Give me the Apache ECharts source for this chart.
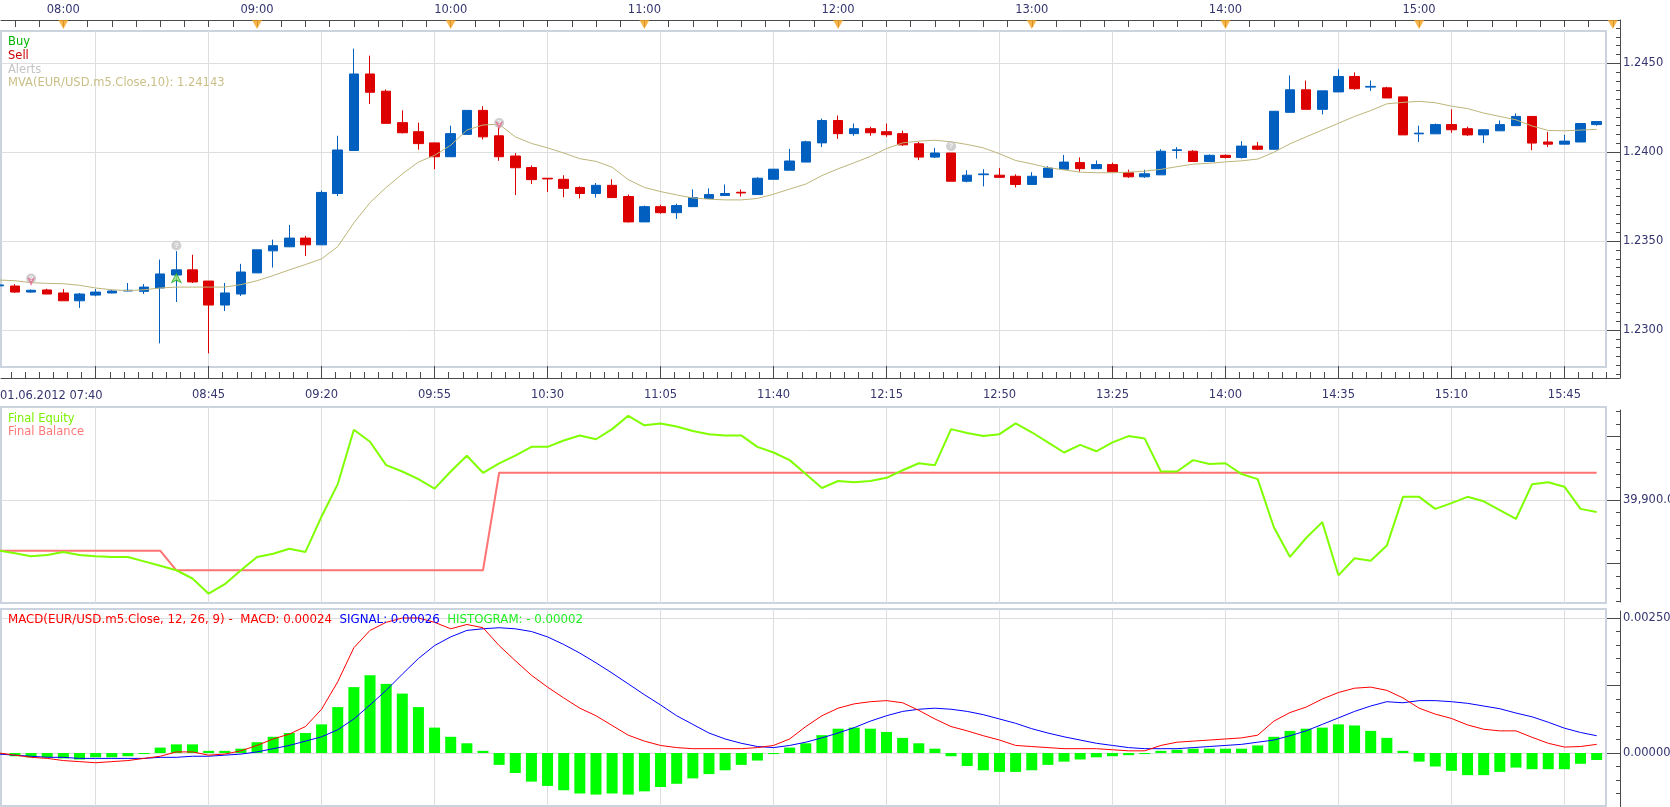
<!DOCTYPE html>
<html><head><meta charset="utf-8">
<script src="https://cdn.jsdelivr.net/npm/echarts@6/dist/echarts.min.js"></script>
<style>html,body{margin:0;padding:0;background:#fff;overflow:hidden}#c{width:1670px;height:807px}</style>
</head><body><div id="c"></div><script>
// ---------------- DATA ----------------
const dateLabel = '01.06.2012';
const times = [
'07:40','07:45','07:50','07:55',
'08:00','08:05','08:10','08:15','08:20','08:25','08:30','08:35','08:40','08:45','08:50','08:55',
'09:00','09:05','09:10','09:15','09:20','09:25','09:30','09:35','09:40','09:45','09:50','09:55',
'10:00','10:05','10:10','10:15','10:20','10:25','10:30','10:35','10:40','10:45','10:50','10:55',
'11:00','11:05','11:10','11:15','11:20','11:25','11:30','11:35','11:40','11:45','11:50','11:55',
'12:00','12:05','12:10','12:15','12:20','12:25','12:30','12:35','12:40','12:45','12:50','12:55',
'13:00','13:05','13:10','13:15','13:20','13:25','13:30','13:35','13:40','13:45','13:50','13:55',
'14:00','14:05','14:10','14:15','14:20','14:25','14:30','14:35','14:40','14:45','14:50','14:55',
'15:00','15:05','15:10','15:15','15:20','15:25','15:30','15:35','15:40','15:45','15:50','15:55'];
const open = [
1.23248,1.23247,1.23213,1.23225,1.23208,1.23164,1.23196,1.23208,1.23219,1.23217,
1.23236,1.23309,1.23338,1.23275,1.23140,1.23202,1.23321,1.23445,1.23468,1.23517,
1.23479,1.23768,1.24010,1.24441,1.24344,1.24167,1.24116,1.24053,1.23975,1.24101,
1.24236,1.24093,1.23979,1.23914,1.23854,1.23848,1.23802,1.23768,1.23814,1.23751,
1.23608,1.23694,1.23660,1.23694,1.23740,1.23757,1.23775,1.23762,1.23848,1.23899,
1.23945,1.24053,1.24179,1.24105,1.24133,1.24116,1.24105,1.24048,1.23973,1.23996,
1.23837,1.23874,1.23871,1.23865,1.23819,1.23859,1.23905,1.23942,1.23908,1.23931,
1.23885,1.23862,1.23873,1.24010,1.24006,1.23948,1.23983,1.23971,1.24035,1.24017,
1.24225,1.24352,1.24242,1.24340,1.24427,1.24367,1.24363,1.24312,1.24104,1.24104,
1.24156,1.24133,1.24098,1.24121,1.24150,1.24202,1.24058,1.24046,1.24058,1.24156];
const close = [
1.23253,1.23213,1.23223,1.23202,1.23164,1.23202,1.23213,1.23219,1.23223,1.23241,
1.23315,1.23338,1.23270,1.23140,1.23208,1.23326,1.23451,1.23474,1.23517,1.23479,
1.23774,1.24013,1.24441,1.24338,1.24163,1.24110,1.24049,1.23975,1.24105,1.24236,
1.24087,1.23975,1.23913,1.23846,1.23850,1.23797,1.23768,1.23814,1.23745,1.23608,
1.23694,1.23660,1.23700,1.23745,1.23762,1.23768,1.23771,1.23854,1.23905,1.23951,
1.24059,1.24179,1.24105,1.24133,1.24110,1.24099,1.24042,1.23973,1.23996,1.23837,
1.23871,1.23878,1.23859,1.23819,1.23865,1.23911,1.23945,1.23908,1.23931,1.23890,
1.23862,1.23879,1.24006,1.24014,1.23948,1.23983,1.23971,1.24035,1.24017,1.24231,
1.24352,1.24242,1.24346,1.24427,1.24358,1.24371,1.24306,1.24098,1.24108,1.24156,
1.24127,1.24098,1.24127,1.24156,1.24202,1.24052,1.24046,1.24063,1.24162,1.24173];
const low = [
1.23245,1.23208,1.23210,1.23202,1.23164,1.23124,1.23189,1.23206,1.23217,1.23202,
1.22924,1.23157,1.23264,1.22868,1.23106,1.23191,1.23321,1.23351,1.23466,1.23416,
1.23479,1.23753,1.24010,1.24272,1.24163,1.24106,1.24015,1.23905,1.23975,1.24101,
1.24072,1.23952,1.23759,1.23821,1.23776,1.23747,1.23740,1.23745,1.23745,1.23605,
1.23608,1.23654,1.23625,1.23694,1.23740,1.23757,1.23751,1.23762,1.23848,1.23899,
1.23945,1.24030,1.24076,1.24093,1.24093,1.24087,1.24036,1.23956,1.23968,1.23837,
1.23831,1.23808,1.23859,1.23802,1.23819,1.23859,1.23905,1.23890,1.23908,1.23890,
1.23856,1.23856,1.23873,1.23965,1.23948,1.23948,1.23965,1.23965,1.24012,1.24017,
1.24225,1.24242,1.24213,1.24340,1.24352,1.24346,1.24306,1.24098,1.24058,1.24104,
1.24110,1.24092,1.24052,1.24121,1.24150,1.24012,1.24029,1.24046,1.24058,1.24150];
const high = [
1.23256,1.23258,1.23228,1.23232,1.23230,1.23208,1.23230,1.23226,1.23264,1.23258,
1.23396,1.23443,1.23423,1.23275,1.23264,1.23372,1.23451,1.23508,1.23591,1.23530,
1.23785,1.24093,1.24584,1.24544,1.24354,1.24236,1.24167,1.24053,1.24150,1.24236,
1.24259,1.24141,1.23996,1.23926,1.23854,1.23871,1.23808,1.23827,1.23848,1.23762,
1.23700,1.23705,1.23711,1.23791,1.23797,1.23819,1.23791,1.23859,1.23905,1.24019,
1.24065,1.24190,1.24207,1.24162,1.24144,1.24162,1.24122,1.24059,1.24025,1.23996,
1.23899,1.23905,1.23911,1.23876,1.23888,1.23922,1.23985,1.23971,1.23954,1.23942,
1.23902,1.23902,1.24017,1.24029,1.24012,1.23988,1.23988,1.24063,1.24058,1.24231,
1.24433,1.24404,1.24346,1.24467,1.24450,1.24404,1.24369,1.24312,1.24150,1.24162,
1.24242,1.24144,1.24127,1.24179,1.24219,1.24202,1.24115,1.24098,1.24162,1.24173];
const mva = [
1.23281,1.23277,1.23266,1.23262,1.23260,1.23251,1.23236,1.23226,1.23221,1.23226,
1.23236,1.23241,1.23241,1.23241,1.23241,1.23255,1.23277,1.23306,1.23338,1.23368,
1.23400,1.23469,1.23603,1.23717,1.23802,1.23878,1.23945,1.23983,1.24040,1.24125,
1.24154,1.24158,1.24087,1.24050,1.24025,1.23996,1.23964,1.23949,1.23916,1.23846,
1.23802,1.23779,1.23760,1.23743,1.23736,1.23732,1.23732,1.23740,1.23764,1.23793,
1.23821,1.23869,1.23907,1.23941,1.23977,1.24021,1.24053,1.24063,1.24068,1.24059,
1.24044,1.24025,1.23992,1.23954,1.23935,1.23914,1.23901,1.23888,1.23885,1.23885,
1.23888,1.23894,1.23904,1.23919,1.23933,1.23938,1.23946,1.23952,1.23962,1.24000,
1.24048,1.24087,1.24125,1.24163,1.24202,1.24235,1.24273,1.24281,1.24287,1.24279,
1.24260,1.24246,1.24221,1.24202,1.24183,1.24148,1.24123,1.24121,1.24125,1.24129];
const alertTimes = ['07:50','08:35','10:15','12:35'];
const alertPrices = [1.23289,1.23475,1.24165,1.24034];
const sellTimes = ['07:50','10:15'];
const sellPrices = [1.23247,1.24126];
const buyTimes = ['08:35'];
const buyPrices = [1.23318];
const equity = [
39820,39816,39811,39813,39818,39813,39811,39810,39810,39803,
39796,39789,39776,39752,39767,39789,39810,39815,39823,39818,
39874,39925,40011,39992,39955,39945,39933,39918,39945,39970,
39943,39958,39970,39984,39984,39994,40002,39996,40012,40033,
40018,40021,40016,40009,40004,40002,40002,39984,39975,39963,
39941,39919,39930,39928,39930,39935,39947,39958,39955,40012,
40006,40001,40004,40021,40007,39991,39975,39987,39977,39991,
40001,39997,39945,39945,39963,39957,39958,39941,39933,39857,
39810,39840,39865,39781,39808,39804,39828,39905,39905,39886,
39895,39905,39898,39884,39870,39925,39928,39921,39886,39881];
const balance = [
39820,39820,39820,39820,39820,39820,39820,39820,39820,39820,
39820,39789,39789,39789,39789,39789,39789,39789,39789,39789,
39789,39789,39789,39789,39789,39789,39789,39789,39789,39789,
39789,39943,39943,39943,39943,39943,39943,39943,39943,39943,
39943,39943,39943,39943,39943,39943,39943,39943,39943,39943,
39943,39943,39943,39943,39943,39943,39943,39943,39943,39943,
39943,39943,39943,39943,39943,39943,39943,39943,39943,39943,
39943,39943,39943,39943,39943,39943,39943,39943,39943,39943,
39943,39943,39943,39943,39943,39943,39943,39943,39943,39943,
39943,39943,39943,39943,39943,39943,39943,39943,39943,39943];
const macd = [
0.00000,-0.00004,-0.00008,-0.00010,-0.00014,-0.00016,-0.00018,-0.00016,-0.00014,-0.00010,
-0.00006,0.00002,0.00002,-0.00004,-0.00002,0.00004,0.00014,0.00026,0.00035,0.00049,
0.00081,0.00132,0.00195,0.00227,0.00242,0.00250,0.00250,0.00242,0.00230,0.00238,
0.00232,0.00199,0.00171,0.00144,0.00122,0.00102,0.00083,0.00069,0.00051,0.00033,
0.00022,0.00014,0.00010,0.00008,0.00008,0.00008,0.00008,0.00010,0.00014,0.00026,
0.00049,0.00069,0.00083,0.00091,0.00095,0.00097,0.00093,0.00079,0.00063,0.00049,
0.00041,0.00032,0.00024,0.00014,0.00012,0.00010,0.00008,0.00008,0.00008,0.00006,
0.00004,0.00004,0.00014,0.00020,0.00022,0.00024,0.00026,0.00028,0.00033,0.00059,
0.00075,0.00085,0.00100,0.00112,0.00120,0.00122,0.00116,0.00102,0.00083,0.00072,
0.00064,0.00052,0.00044,0.00041,0.00041,0.00029,0.00018,0.00011,0.00012,0.00016];
const signal = [
-0.00002,-0.00004,-0.00006,-0.00008,-0.00008,-0.00010,-0.00010,-0.00010,-0.00010,-0.00010,
-0.00008,-0.00008,-0.00006,-0.00006,-0.00004,-0.00002,0.00002,0.00008,0.00014,0.00022,
0.00030,0.00043,0.00063,0.00089,0.00116,0.00146,0.00175,0.00199,0.00215,0.00227,
0.00230,0.00232,0.00230,0.00225,0.00215,0.00201,0.00185,0.00167,0.00148,0.00128,
0.00108,0.00089,0.00069,0.00053,0.00037,0.00026,0.00018,0.00012,0.00010,0.00014,
0.00020,0.00028,0.00037,0.00047,0.00059,0.00069,0.00077,0.00081,0.00083,0.00081,
0.00077,0.00071,0.00063,0.00055,0.00045,0.00037,0.00030,0.00024,0.00018,0.00014,
0.00010,0.00008,0.00008,0.00008,0.00010,0.00012,0.00014,0.00016,0.00020,0.00024,
0.00032,0.00041,0.00053,0.00065,0.00077,0.00087,0.00095,0.00093,0.00097,0.00097,
0.00095,0.00092,0.00087,0.00082,0.00074,0.00067,0.00057,0.00046,0.00038,0.00032];
const histogram = [
-0.00002,-0.00006,-0.00008,-0.00008,-0.00010,-0.00012,-0.00008,-0.00008,-0.00006,-0.00002,
0.00010,0.00016,0.00016,0.00004,0.00004,0.00008,0.00020,0.00030,0.00037,0.00037,
0.00053,0.00085,0.00122,0.00144,0.00128,0.00110,0.00085,0.00047,0.00030,0.00018,
0.00004,-0.00022,-0.00037,-0.00053,-0.00061,-0.00069,-0.00075,-0.00077,-0.00075,-0.00077,
-0.00071,-0.00063,-0.00057,-0.00047,-0.00039,-0.00032,-0.00022,-0.00014,-0.00002,0.00010,
0.00018,0.00033,0.00045,0.00047,0.00045,0.00039,0.00028,0.00018,0.00008,-0.00006,
-0.00024,-0.00032,-0.00035,-0.00035,-0.00032,-0.00022,-0.00016,-0.00012,-0.00008,-0.00006,
-0.00004,-0.00002,0.00004,0.00006,0.00008,0.00008,0.00008,0.00008,0.00014,0.00030,
0.00041,0.00045,0.00047,0.00053,0.00051,0.00041,0.00028,0.00004,-0.00016,-0.00025,
-0.00033,-0.00041,-0.00041,-0.00035,-0.00027,-0.00030,-0.00030,-0.00030,-0.00020,-0.00013];
const hourLabels = ['08:00','09:00','10:00','11:00','12:00','13:00','14:00','15:00'];
const hourMarks = ['08:00','09:00','10:00','11:00','12:00','13:00','14:00','15:00','16:00'];
const bottomLabels = ['08:45','09:20','09:55','10:30','11:05','11:40','12:15','12:50','13:25','14:00','14:35','15:10','15:45'];
const bottomGrid = ['08:10'].concat(bottomLabels);
const priceTicks = [1.2300, 1.2350, 1.2400, 1.2450];
const equityTicks = [39800, 39900, 40000];
const equityLabels = [39900];
const macdTicks = [0, 0.00125, 0.0025];
const macdLabels = [0, 0.0025];
const legendMain = ['Buy','Sell','Alerts','MVA(EUR/USD.m5.Close,10): 1.24143'];
const legendEq = ['Final Equity','Final Balance'];
const legendMacd = ['MACD(EUR/USD.m5.Close, 12, 26, 9) -  MACD: 0.00024','SIGNAL: 0.00026','HISTOGRAM: - 0.00002'];

// ---------------- LAYOUT ----------------
const BAR0 = -1.2, BAR = 16.14;           // pixel of first bar centre, bar spacing
const L = 1, PLOT_R = 1606, AXIS_R = 1620;
const PRICE = {v:1.2450, px:63.5, per:0.005/88.8};
const EQ = {v:39900, px:500, per:100/63.3};
const MC = {v:0, px:753, per:0.0025/135};
const FONT = '"DejaVu Sans", Verdana, sans-serif';
const FS = 11.5;
const AXC = '#4a4a4a', LBL = '#35356f', GRIDC = '#dedede', FRAME = '#cbd3de';
const UP = '#005fbf', DN = '#dd0000';

const tIdx = t => { const k = times.indexOf(t); return k >= 0 ? k : times.length; };
function xr(left, width){ return {min:(left-BAR0)/BAR, max:(left+width-BAR0)/BAR}; }
function yr(top, height, m){ return {max: m.v + (m.px-top)*m.per, min: m.v - (top+height-m.px)*m.per}; }
function steps(a, b, s){ const r=[]; for(let v=a; v<=b+1e-12; v+=s) r.push(+v.toFixed(8)); return r; }

const grids=[], xAxes=[], yAxes=[];
function base(){ return {type:'value', axisLine:{show:false,onZero:false}, axisTick:{show:false}, axisLabel:{show:false}, splitLine:{show:false}}; }
function addGrid(left, top, width, height, xs, ys, g){
  grids.push(Object.assign({left, top, width, height, containLabel:false, outerBoundsMode:'none', show:false}, g||{}));
  const k = grids.length-1;
  xAxes.push(Object.assign(base(), {gridIndex:k}, xr(left,width), xs||{}));
  yAxes.push(Object.assign(base(), {gridIndex:k}, ys||{}));
  return k;
}
const lineOn = {show:true, onZero:false, lineStyle:{color:AXC, width:1}};
const lbl = (vals, fmt, margin) => ({show:true, customValues:vals, formatter:fmt, color:LBL, fontFamily:FONT, fontSize:FS, margin, hideOverlap:false});
const tick = (vals, len) => ({show:true, inside:true, length:len, customValues:vals, lineStyle:{color:AXC, width:1}});
const split = vals => ({axisTick:{show:false, customValues:vals}, splitLine:{show:true, lineStyle:{color:GRIDC, width:1}}});
const timeFmt = v => times[Math.round(v)];

const gridX = bottomGrid.map(tIdx);
const minorX = steps(6 - 7/8*6, 100, 7/8);
const topTicks = steps(1, 100, 1.5);
const eqFmt = v => v.toFixed(1).replace(/\B(?=(\d{3})+(?!\d))/g, ',');
const mcFmt = v => (Math.abs(v) < 1e-9 ? 0 : v).toFixed(5);

// 0 top time axis
addGrid(L, 20, AXIS_R-L, 11,
  {position:'top', axisLine:lineOn, axisTick:tick(topTicks,7), axisLabel:lbl(hourLabels.map(tIdx), timeFmt, 4)},
  {min:0, max:1});
// 1 main axes
addGrid(L, 20, AXIS_R-L, 358,
  {position:'bottom', axisLine:lineOn, axisTick:tick(gridX,12), axisLabel:lbl(bottomLabels.map(tIdx), timeFmt, 11)},
  Object.assign({position:'right', axisLine:lineOn, axisTick:tick(priceTicks,13), axisLabel:lbl(priceTicks, v=>v.toFixed(4), 3)}, yr(20,358,PRICE)));
// 2 main minor ticks
addGrid(L, 20, AXIS_R-L, 358,
  {position:'bottom', axisTick:tick(minorX,6)},
  Object.assign({position:'right', axisTick:tick(steps(1.2270,1.2475,0.0005),4)}, yr(20,358,PRICE)));
// 3 main plot
addGrid(L, 31, PLOT_R-L, 336, split(gridX),
  Object.assign(split(priceTicks), yr(31,336,PRICE)),
  {show:true, borderColor:FRAME, borderWidth:2, backgroundColor:'transparent'});
// 4 equity plot
addGrid(L, 407, PLOT_R-L, 196, split(gridX),
  Object.assign(split(equityLabels), yr(407,196,EQ)),
  {show:true, borderColor:FRAME, borderWidth:2, backgroundColor:'transparent'});
// 5 equity axes
addGrid(L, 410, AXIS_R-L, 192, {},
  Object.assign({position:'right', axisLine:lineOn, axisTick:tick(equityTicks,13), axisLabel:lbl(equityLabels, eqFmt, 3)}, yr(410,192,EQ)));
// 6 equity minor
addGrid(L, 410, AXIS_R-L, 192, {},
  Object.assign({position:'right', axisTick:tick(steps(39740,40040,20),4)}, yr(410,192,EQ)));
// 7 macd plot
addGrid(L, 609, PLOT_R-L, 197, split(gridX),
  Object.assign(split([0, 0.0025]), yr(609,197,MC)),
  {show:true, borderColor:FRAME, borderWidth:2, backgroundColor:'transparent'});
// 8 macd axes
addGrid(L, 611, AXIS_R-L, 196, {},
  Object.assign({position:'right', axisLine:lineOn, axisTick:tick(macdTicks,13), axisLabel:lbl(macdLabels, mcFmt, 3)}, yr(611,196,MC)));
// 9 macd minor
addGrid(L, 611, AXIS_R-L, 196, {},
  Object.assign({position:'right', axisTick:tick(steps(-0.001,0.00275,0.00025),4)}, yr(611,196,MC)));

const series = [
  {type:'scatter', xAxisIndex:0, yAxisIndex:0, data: hourMarks.map(t=>[tIdx(t),0.6]), symbol:'triangle', symbolRotate:180, symbolSize:[10,9], itemStyle:{color:'#f6a21d'}, clip:false, silent:true, z:5},
  {type:'candlestick', xAxisIndex:3, yAxisIndex:3, data: times.map((t,i)=>[i, open[i], close[i], low[i], high[i]]), barWidth:10,
   itemStyle:{color:UP, color0:DN, borderColor:UP, borderColor0:DN, borderColorDoji:UP, borderWidth:1}, clip:true},
  {type:'line', xAxisIndex:3, yAxisIndex:3, data: mva.map((v,i)=>[i,v]), symbol:'none', lineStyle:{color:'#bdb57a', width:1}, clip:true, z:3},
  {type:'scatter', xAxisIndex:3, yAxisIndex:3, data: alertTimes.map((t,k)=>[tIdx(t), alertPrices[k]]), symbol:'circle', symbolSize:10,
   itemStyle:{color:'#c3c3c3'}, label:{show:true, position:'inside', formatter:'?', color:'#fff', fontSize:8, fontWeight:'bold'}, z:6},
  {type:'scatter', xAxisIndex:3, yAxisIndex:3, data: sellTimes.map((t,k)=>[tIdx(t), sellPrices[k]]), symbol:'arrow', symbolRotate:180, symbolSize:[6,9], itemStyle:{color:'#e56d8c'}, z:6},
  {type:'scatter', xAxisIndex:3, yAxisIndex:3, data: buyTimes.map((t,k)=>[tIdx(t), buyPrices[k]]), symbol:'arrow', symbolSize:[7,9], itemStyle:{color:'#9be07a', borderColor:'#22aa22', borderWidth:1}, z:6},
  {type:'line', xAxisIndex:4, yAxisIndex:4, data: balance.map((v,i)=>[i,v]), symbol:'none', lineStyle:{color:'#ff7373', width:2}, clip:true},
  {type:'line', xAxisIndex:4, yAxisIndex:4, data: equity.map((v,i)=>[i,v]), symbol:'none', lineStyle:{color:'#80ff00', width:2}, clip:true},
  {type:'bar', xAxisIndex:7, yAxisIndex:7, data: histogram.map((v,i)=>[i,v]), barWidth:11, itemStyle:{color:'#00ff00'}},
  {type:'line', xAxisIndex:7, yAxisIndex:7, data: signal.map((v,i)=>[i,v]), symbol:'none', lineStyle:{color:'#0000ff', width:1}, clip:true},
  {type:'line', xAxisIndex:7, yAxisIndex:7, data: macd.map((v,i)=>[i,v]), symbol:'none', lineStyle:{color:'#ff0000', width:1}, clip:true}
];

const F = FS + 'px ' + FONT;
const FM = '11.8px ' + FONT;
const txt = (s, x, y, fill) => ({type:'text', x, y, z:100, style:{text:s, fill, font:F, verticalAlign:'middle'}});
const mainColors = ['#00b400','#c80000','#c4c4c4','#c9bf86'];
const graphic = legendMain.map((s,k)=>txt(s, 8, 41.8 + k*13.9, mainColors[k]))
  .concat([txt(legendEq[0], 8, 419, '#7cf000'), txt(legendEq[1], 8, 432, '#ff7878'),
           txt(dateLabel + ' ' + times[0], 0, 396, LBL),
           {type:'text', x:8, y:620, z:100, style:{text:'{a|'+legendMacd[0]+'}  {b|'+legendMacd[1]+'}  {c|'+legendMacd[2]+'}',
             font:FM, verticalAlign:'middle',
             rich:{a:{fill:'#ff0000', font:FM}, b:{fill:'#0000ff', font:FM}, c:{fill:'#22ee22', font:FM}}}}]);

const chart = echarts.init(document.getElementById('c'));
chart.setOption({animation:false, backgroundColor:'#fff', grid:grids, xAxis:xAxes, yAxis:yAxes, series, graphic});
</script></body></html>
